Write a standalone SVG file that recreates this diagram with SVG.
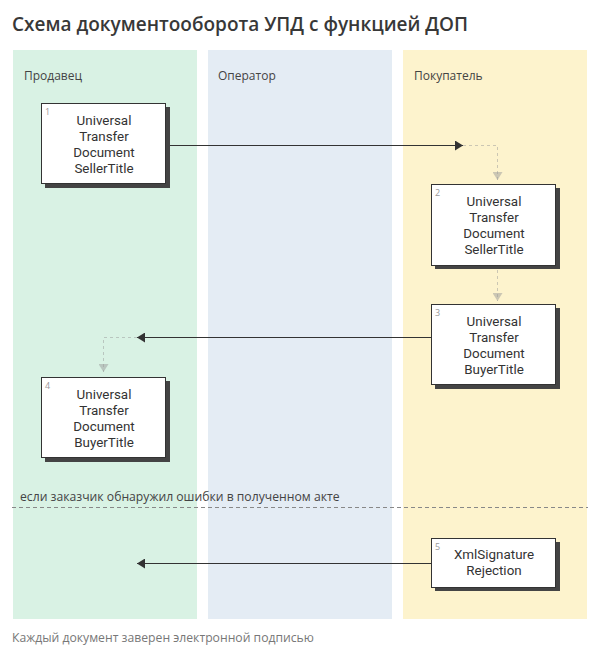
<svg xmlns="http://www.w3.org/2000/svg" width="600" height="659" viewBox="0 0 600 659">
<style>
text{font-family:"Open Sans","Noto Sans","Liberation Sans",sans-serif}
.title{font-size:19px;font-weight:600;fill:#383838}
.lane-label{font-size:12px;fill:#444}
.node rect.box{fill:#fff;stroke:#333;stroke-width:1}
.node rect.shadow{fill:#444}
.node text.t{font-family:Roboto,"Liberation Sans",sans-serif;font-size:13.4px;fill:#333;text-anchor:middle}
.node text.n{font-size:9px;fill:#999}
.flow{stroke:#333;stroke-width:1;fill:none}
.dash{stroke:#999;stroke-opacity:0.5;stroke-width:1;stroke-dasharray:3 3;fill:none}
.sep{stroke:#888;stroke-width:1;stroke-dasharray:4 3}
.note{font-size:12.2px;fill:#444}
.footer{font-size:12.2px;fill:#777}
</style>
<defs>
<marker id="ah" viewBox="0 0 8 10" refX="8" refY="5" markerWidth="8" markerHeight="10" orient="auto" markerUnits="userSpaceOnUse">
<path d="M0,0 L8,5 L0,10 Z" fill="#333"/>
</marker>
<marker id="ahd" viewBox="0 0 10 8" refX="5" refY="8" markerWidth="10" markerHeight="8" orient="0" markerUnits="userSpaceOnUse">
<path d="M0,0 L10,0 L5,8 Z" fill="#999" fill-opacity="0.5"/>
</marker>
</defs>
<rect width="600" height="659" fill="#fff"/>
<text class="title" x="12" y="31">Схема документооборота УПД с функцией ДОП</text>
<g id="lanes">
<g id="lane-seller"><rect x="13" y="50" width="184" height="569" fill="#d9f2e4"/><text class="lane-label" x="24" y="80">Продавец</text></g>
<g id="lane-operator"><rect x="208" y="50" width="184" height="569" fill="#e4ecf4"/><text class="lane-label" x="218" y="80">Оператор</text></g>
<g id="lane-buyer"><rect x="403" y="50" width="184" height="569" fill="#fdf3cd"/><text class="lane-label" x="414" y="80">Покупатель</text></g>
</g>
<g id="separator">
<line class="sep" x1="12" y1="507.5" x2="588" y2="507.5"/>
<text class="note" x="20" y="501">если заказчик обнаружил ошибки в полученном акте</text>
</g>
<g id="connectors">
<path class="flow" d="M166,145.5 H463" marker-end="url(#ah)"/>
<path class="dash" d="M463,145.5 H497.5 V180" marker-end="url(#ahd)"/>
<path class="dash" d="M497.5,270 V301" marker-end="url(#ahd)"/>
<path class="flow" d="M431,337.5 H137" marker-end="url(#ah)"/>
<path class="dash" d="M137,337.5 H103.5 V372" marker-end="url(#ahd)"/>
<path class="flow" d="M431,563.5 H137" marker-end="url(#ah)"/>
</g>
<g id="node1" class="node">
<rect class="shadow" x="45" y="107" width="125" height="81"/>
<rect class="box" x="41.5" y="103.5" width="124" height="80"/>
<text class="n" x="45" y="115">1</text>
<text class="t"><tspan x="104" y="124.5">Universal</tspan><tspan x="104" y="140.5">Transfer</tspan><tspan x="104" y="156.5">Document</tspan><tspan x="104" y="172.5">SellerTitle</tspan></text>
</g>
<g id="node2" class="node">
<rect class="shadow" x="435" y="188" width="125" height="81"/>
<rect class="box" x="431.5" y="184.5" width="124" height="81"/>
<text class="n" x="435" y="196">2</text>
<text class="t"><tspan x="494" y="205.5">Universal</tspan><tspan x="494" y="221.5">Transfer</tspan><tspan x="494" y="237.5">Document</tspan><tspan x="494" y="253.5">SellerTitle</tspan></text>
</g>
<g id="node3" class="node">
<rect class="shadow" x="435" y="308" width="125" height="81"/>
<rect class="box" x="431.5" y="304.5" width="124" height="80"/>
<text class="n" x="435" y="316">3</text>
<text class="t"><tspan x="494" y="325.5">Universal</tspan><tspan x="494" y="341.5">Transfer</tspan><tspan x="494" y="357.5">Document</tspan><tspan x="494" y="373.5">BuyerTitle</tspan></text>
</g>
<g id="node4" class="node">
<rect class="shadow" x="45" y="381" width="125" height="81"/>
<rect class="box" x="41.5" y="377.5" width="124" height="80"/>
<text class="n" x="45" y="389">4</text>
<text class="t"><tspan x="104" y="398.5">Universal</tspan><tspan x="104" y="414.5">Transfer</tspan><tspan x="104" y="430.5">Document</tspan><tspan x="104" y="446.5">BuyerTitle</tspan></text>
</g>
<g id="node5" class="node">
<rect class="shadow" x="435" y="542" width="125" height="49"/>
<rect class="box" x="431.5" y="538.5" width="124" height="49"/>
<text class="n" x="435" y="550">5</text>
<text class="t"><tspan x="494" y="559">XmlSignature</tspan><tspan x="494" y="575">Rejection</tspan></text>
</g>
<text class="footer" x="12" y="642">Каждый документ заверен электронной подписью</text>
</svg>
